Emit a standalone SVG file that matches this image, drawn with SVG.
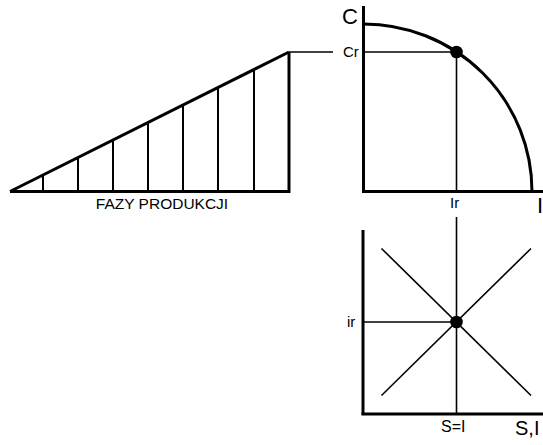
<svg xmlns="http://www.w3.org/2000/svg" width="543" height="445" viewBox="0 0 543 445">
<style>
.thick{stroke:#000;stroke-width:3;fill:none;stroke-linecap:butt}
.mid{stroke:#000;stroke-width:2;fill:none}
.thin{stroke:#000;stroke-width:1.6;fill:none}
text{font-family:"Liberation Sans",Arial,sans-serif;fill:#000}
.s{font-size:15px}
.l{font-size:22px}
</style>
<rect width="543" height="445" fill="#fff"/>
<g id="triangle">
<line class="thick" x1="10" y1="191.5" x2="289" y2="52"/>
<line class="thick" x1="10" y1="191.5" x2="289" y2="191.5"/>
<line class="thick" x1="289" y1="52" x2="289" y2="193"/>
<g class="mid">
<line x1="43" y1="175" x2="43" y2="191"/>
<line x1="78" y1="157.5" x2="78" y2="191"/>
<line x1="113" y1="140" x2="113" y2="191"/>
<line x1="148" y1="122.5" x2="148" y2="191"/>
<line x1="183" y1="105" x2="183" y2="191"/>
<line x1="218" y1="87.5" x2="218" y2="191"/>
<line x1="254" y1="70" x2="254" y2="191"/>
</g>
<text x="162" y="209" font-size="15.5" text-anchor="middle">FAZY PRODUKCJI</text>
</g>
<g id="top-chart">
<line class="thick" x1="363.5" y1="6" x2="363.5" y2="193"/>
<line class="thick" x1="362" y1="191.5" x2="543" y2="191.5"/>
<path class="thick" d="M363.5,24 A168.5,167.5 0 0 1 532,191.5"/>
<text class="l" x="342" y="24">C</text>
<text class="s" x="343" y="56.5">Cr</text>
<text class="s" x="450" y="208">Ir</text>
<text class="l" x="537" y="213">I</text>
</g>
<g id="bottom-chart">
<line class="thick" x1="363" y1="230" x2="363" y2="415"/>
<line class="thick" x1="361.5" y1="414" x2="543" y2="414"/>
<line class="thin" x1="381.5" y1="248.5" x2="531" y2="395.5"/>
<line class="thin" x1="381.5" y1="395.5" x2="531" y2="248.5"/>
<text class="s" x="347" y="326.5">ir</text>
<text x="441" y="431.5" font-size="16">S=I</text>
<text x="515" y="435" font-size="20">S,I</text>
</g>
<g id="connectors">
<line class="thin" x1="289" y1="52" x2="333" y2="52"/>
<line class="thin" x1="363" y1="52" x2="456.5" y2="52"/>
<line class="thin" x1="456.5" y1="52" x2="456.5" y2="192"/>
<line class="thin" x1="456.5" y1="217" x2="456.5" y2="414"/>
<line class="thin" x1="363" y1="322" x2="456.5" y2="322"/>
</g>
<g id="points">
<circle cx="456.5" cy="52" r="6.3"/>
<circle cx="456.5" cy="322" r="6.3"/>
</g>
</svg>
